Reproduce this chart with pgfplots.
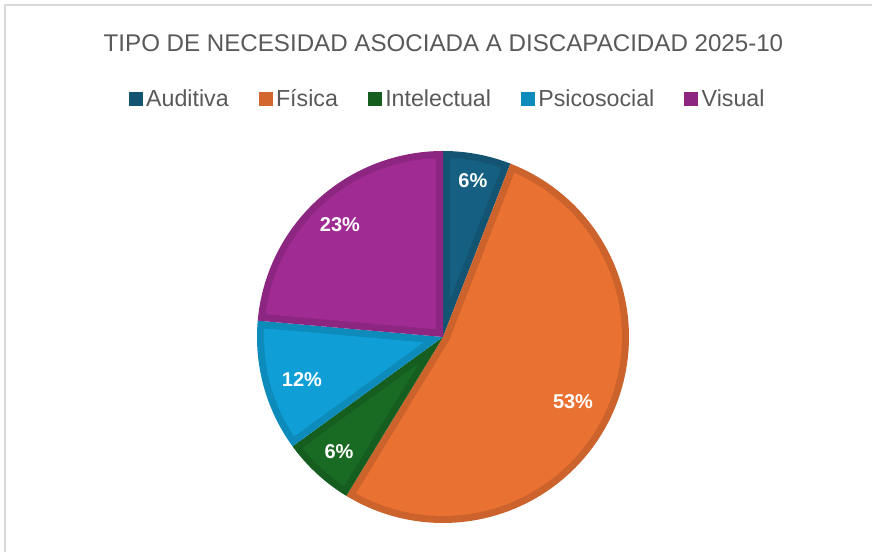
\documentclass[border=0pt]{standalone}
\usepackage{fontspec}
\setmainfont{Liberation Sans}
\usepackage{pgfplots}
\usepackage{pgfplotstable}
\pgfplotsset{compat=1.18}

\definecolor{aud}{HTML}{156082}
\definecolor{fis}{HTML}{E97132}
\definecolor{int}{HTML}{196B24}
\definecolor{psi}{HTML}{0F9ED5}
\definecolor{vis}{HTML}{A02B93}
\definecolor{txtgray}{HTML}{595959}
\definecolor{framegray}{HTML}{D9D9D9}

% share of each type, in percent
\pgfplotstableread{
label        value
Auditiva     5.9
Fisica       52.8
Intelectual  6.3
Psicosocial  11.4
Visual       23.6
}\necesidad

\newcommand\getval[2]{\pgfplotstablegetelem{#1}{value}\of\necesidad\let#2\pgfplotsretval}
\getval{0}\vA \getval{1}\vB \getval{2}\vC \getval{3}\vD \getval{4}\vE
% start angles, clockwise from 12 o'clock
\pgfmathsetmacro\aA{90}
\pgfmathsetmacro\aB{\aA-3.6*\vA}
\pgfmathsetmacro\aC{\aB-3.6*\vB}
\pgfmathsetmacro\aD{\aC-3.6*\vC}
\pgfmathsetmacro\aE{\aD-3.6*\vD}
\pgfmathsetmacro\aF{\aE-3.6*\vE}

\def\bw{0.038}% width of the darker rim
% #1 start angle, #2 end angle, #3 colour
\newcommand\slice[3]{%
  \pgfmathsetmacro\th{#1-#2}%
  \pgfmathsetmacro\md{(#1+#2)/2}%
  \pgfmathsetmacro\dl{asin(\bw/(1-\bw))}%
  \pgfmathsetmacro\ia{#2+\dl}%
  \pgfmathsetmacro\ib{#1-\dl}%
  \ifdim\th pt>180pt
    \pgfmathsetmacro\px{\bw*cos(#1-90)}\pgfmathsetmacro\py{\bw*sin(#1-90)}%
    \pgfmathsetmacro\qx{\bw*cos(#2+90)}\pgfmathsetmacro\qy{\bw*sin(#2+90)}%
  \else
    \pgfmathsetmacro\px{\bw/sin(\th/2)*cos(\md)}\pgfmathsetmacro\py{\bw/sin(\th/2)*sin(\md)}%
    \let\qx\px \let\qy\py
  \fi
  \edef\temp{%
    \noexpand\addplot[forget plot, fill=#3!88!black, draw=none, domain=#2:#1, samples=100]
      ({cos(x)},{sin(x)}) -- (axis cs:0,0) -- cycle;
    \noexpand\addplot[forget plot, fill=#3, draw=none, domain=\ia:\ib, samples=100]
      ({(1-\bw)*cos(x)},{(1-\bw)*sin(x)}) -- (axis cs:\px,\py) -- (axis cs:\qx,\qy) -- cycle;
  }\temp
}

\begin{document}
\begin{tikzpicture}
\path[use as bounding box] (0,0) rectangle (654pt,414pt);
\draw[framegray, line width=1.5pt] (3.75pt,-10pt) -- (3.75pt,410.25pt) -- (670pt,410.25pt);
\node[anchor=base, text=txtgray, font=\fontsize{18.1}{21}\selectfont]
  at (332.6pt,375.5pt) {TIPO DE NECESIDAD ASOCIADA A DISCAPACIDAD 2025-10};

\begin{axis}[
    at={(332.25pt,161.25pt)}, anchor=center,
    x=139.5pt, y=139.5pt,
    xmin=-1.15, xmax=1.15, ymin=-1.15, ymax=1.15,
    hide axis, clip=false,
    legend style={at={(0.5117,1.056)}, anchor=center, draw=none, fill=none,
        font=\fontsize{17.4}{20}\selectfont, text=txtgray, legend columns=5,
        /tikz/every even column/.append style={column sep=20.5pt}},
    legend image code/.code={\fill[draw=none,#1] (0pt,-5.2pt) rectangle (10.5pt,5.2pt);
        \path[draw=none,fill=none] (0pt,0pt) -- (11pt,0pt);},
]
\slice{\aA}{\aB}{aud}
\slice{\aB}{\aC}{fis}
\slice{\aC}{\aD}{int}
\slice{\aD}{\aE}{psi}
\slice{\aE}{\aF}{vis}

\addlegendimage{fill=aud!88!black}\addlegendentry{Auditiva}
\addlegendimage{fill=fis!90!black}\addlegendentry{Física}
\addlegendimage{fill=int!88!black}\addlegendentry{Intelectual}
\addlegendimage{fill=psi!88!black}\addlegendentry{Psicosocial}
\addlegendimage{fill=vis!88!black}\addlegendentry{Visual}

\tikzset{lbl/.style={text=white, font=\bfseries\fontsize{15}{18}\selectfont}}
\node[lbl] at (axis cs:0.161,0.839) {6\%};
\node[lbl] at (axis cs:0.699,-0.349) {53\%};
\node[lbl] at (axis cs:-0.559,-0.618) {6\%};
\node[lbl] at (axis cs:-0.758,-0.231) {12\%};
\node[lbl] at (axis cs:-0.554,0.602) {23\%};
\end{axis}
\end{tikzpicture}
\end{document}
